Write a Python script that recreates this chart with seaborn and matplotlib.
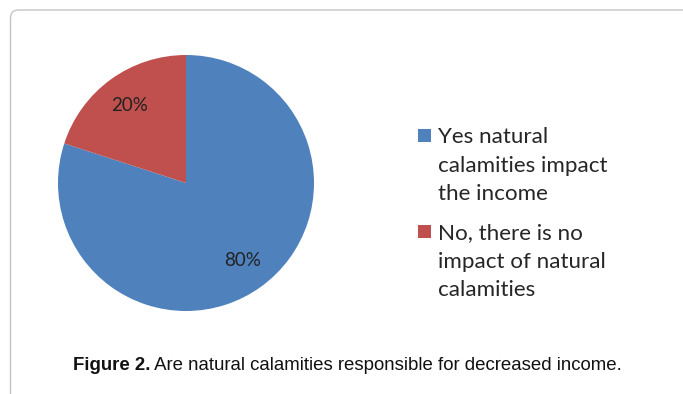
import matplotlib
matplotlib.use("Agg")
import matplotlib.pyplot as plt
import seaborn as sns
from matplotlib.patches import FancyBboxPatch, Rectangle, Wedge
from matplotlib.legend_handler import HandlerPatch
from matplotlib.text import Text

# ---- data ----
categories = ["Yes natural calamities impact the income",
              "No, there is no impact of natural calamities"]
legend_labels = ["Yes natural\ncalamities impact\nthe income",
                 "No, there is no\nimpact of natural\ncalamities"]
values = [80, 20]
colors = ["#4F81BD", "#C0504D"]
caption_bold = "Figure 2."
caption_rest = " Are natural calamities responsible for decreased income."

sns.set_theme(style="white")
plt.rcParams['font.family'] = ['Lato', 'DejaVu Sans']
palette = sns.color_palette(colors)

W, H = 683, 394
fig = plt.figure(figsize=(W / 100, H / 100), dpi=100)
fig.patch.set_facecolor("white")

# frame (rounded, light gray) extending past right/bottom edges
frame = FancyBboxPatch((0.105, -0.5), 8.0, 3.84 + 0.5,
                       boxstyle="round,pad=0,rounding_size=0.08",
                       transform=fig.dpi_scale_trans, facecolor="none",
                       edgecolor="#C4C4C4", linewidth=1.0)
fig.patches.append(frame)

# pie
cx, cy, r = 186, 183, 128
ax = fig.add_axes([(cx - r) / W, (H - cy - r) / H, 2 * r / W, 2 * r / H])
wedges, texts, autotexts = ax.pie(
    values, colors=palette, startangle=90, counterclock=False,
    autopct=lambda p: f"{p:.0f}%", pctdistance=0.75,
    wedgeprops=dict(linewidth=0),
    textprops=dict(fontsize=13.5, color="#222222"))
ax.set_xlim(-1, 1)
ax.set_ylim(-1, 1)
ax.set_axis_off()

# legend with square marker aligned to the first label line
fs = 16.1
LINE_PX = 28.5
LINE_PT = LINE_PX * 72 / 100
SQ = 9.4


def square(legend, orig_handle, xdescent, ydescent, width, height, fontsize):
    return Rectangle((-xdescent, -ydescent + LINE_PT + 2.0), SQ, SQ)


leg = fig.legend(wedges, legend_labels, loc="upper left",
                 bbox_to_anchor=(418 / W, (H - 127) / H),
                 frameon=False, fontsize=fs,
                 handlelength=SQ / fs, handletextpad=0.31,
                 labelspacing=0.85, borderpad=0, borderaxespad=0,
                 handler_map={Wedge: HandlerPatch(patch_func=square)})

# set line spacing so that consecutive lines are about LINE_PX apart
fig.canvas.draw()
renderer = fig.canvas.get_renderer()
probe = Text(0, 0, "lp", fontsize=fs, family=['Lato', 'DejaVu Sans'])
probe.set_figure(fig)
_, hlp, _ = renderer.get_text_width_height_descent(
    "lp", probe.get_fontproperties(), ismath=False)
ls = LINE_PX / hlp * 1.075
for t in leg.get_texts():
    t.set_linespacing(ls)
    t.set_color("#262626")

# caption
base_y = (H - 370) / H
t1 = fig.text(73 / W, base_y, caption_bold, fontweight="bold", fontsize=13.4,
              family=["Liberation Sans", "DejaVu Sans"], va="baseline",
              color="#111111")
bb = t1.get_window_extent(renderer)
fig.text(bb.x1 / W, base_y, caption_rest, fontsize=13.4,
         family=["Liberation Sans", "DejaVu Sans"], va="baseline",
         color="#111111")

fig.savefig("out.png", dpi=100)
